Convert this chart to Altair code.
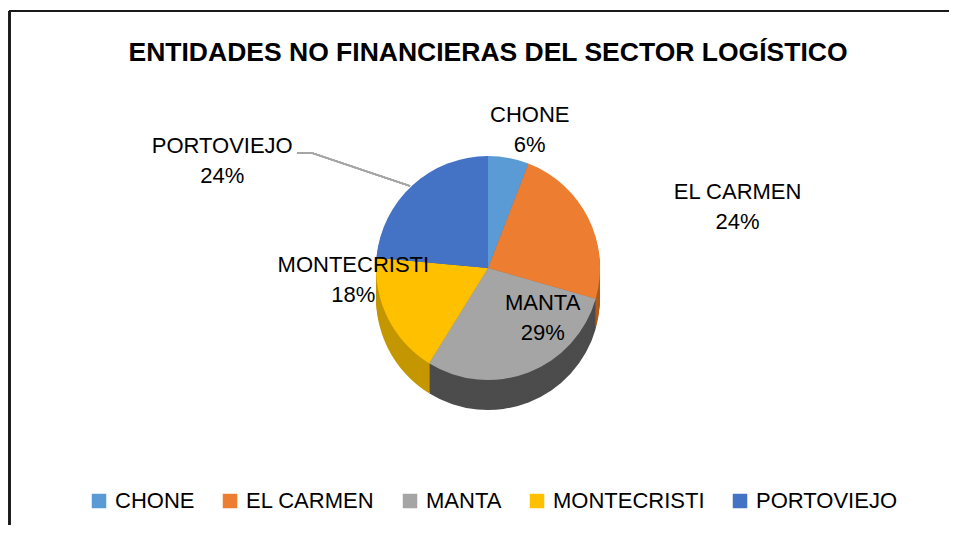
import altair as alt
import pandas as pd

# ---- data ----
ciudades = ["CHONE", "EL CARMEN", "MANTA", "MONTECRISTI", "PORTOVIEJO"]
entidades = [1, 4, 5, 3, 4]

titulo = ["ENTIDADES NO FINANCIERAS DEL SECTOR LOGÍSTICO"]

# ---- styles ----
colores = ["#5B9BD5", "#ED7D31", "#A5A5A5", "#FFC000", "#4472C4"]
colores_lado = ["#3E75A6", "#B35A1A", "#4C4C4C", "#C49600", "#2F5597"]
FONT = "Liberation Sans, Arial, sans-serif"

W, H = 941, 447
PAD_TOP = 70
CX, CY = 480, 190
R = 112
DEPTH = 30

df = pd.DataFrame({"Ciudad": ciudades, "Entidades": entidades})

mapa_lado = "{" + ",".join(f"'{c}':'{k}'" for c, k in zip(ciudades, colores_lado)) + "}"

base = alt.Chart().transform_joinaggregate(
    total="sum(Entidades)"
).transform_calculate(
    etiqueta="datum.Ciudad + '\\n' + format(datum.Entidades / datum.total, '.0%')",
    color_lado=f"{mapa_lado}[datum.Ciudad]",
)

theta = alt.Theta("Entidades:Q", stack=True)
order = alt.Order("Ciudad:N", sort="ascending")
cx = alt.value(CX)
cy = alt.value(CY)

# side (depth) of the pie
lados = [
    base.mark_arc(radius=R, yOffset=d).encode(
        theta=theta,
        order=order,
        fill=alt.Fill("color_lado:N", scale=None),
        x=cx,
        y=cy,
    )
    for d in range(DEPTH, 0, -2)
]

# top face
tapa = base.mark_arc(radius=R).encode(
    theta=theta,
    order=order,
    color=alt.Color(
        "Ciudad:N",
        scale=alt.Scale(domain=ciudades, range=colores),
        legend=alt.Legend(
            title=None,
            orient="none",
            direction="horizontal",
            legendX=80,
            legendY=412,
            symbolType="square",
            symbolSize=210,
            symbolStrokeWidth=0,
            labelFont=FONT,
            labelFontSize=22,
            labelColor="black",
            labelOffset=5,
            columnPadding=24,
            labelLimit=300,
        ),
    ),
    x=cx,
    y=cy,
)

# labels: (radius, dx, dy) per city
pos_etiquetas = {
    "CHONE": (140, 16, -15),
    "EL CARMEN": (137, 127, -15),
    "MANTA": (60, 33, -21),
    "MONTECRISTI": (80, -63, -39),
    "PORTOVIEJO": (160, -158, -4),
}

textos = []
for nombre, (rr, ddx, ddy) in pos_etiquetas.items():
    textos.append(
        base.mark_text(
            radius=rr, dx=ddx, dy=ddy, font=FONT, fontSize=22, color="black",
            lineBreak="\n", align="center", baseline="middle", lineHeight=30,
        ).encode(
            theta=theta,
            order=order,
            text=alt.condition(f"datum.Ciudad == '{nombre}'", "etiqueta:N", alt.value("")),
            x=cx,
            y=cy,
        )
    )

# leader line for PORTOVIEJO
guia_h = base.mark_rule(color="#A6A6A6", strokeWidth=1.5).encode(
    x=alt.value(289), x2=alt.value(304), y=alt.value(75)
)
guia_d = base.mark_rule(color="#A6A6A6", strokeWidth=1.5).encode(
    x=alt.value(304), x2=alt.value(402), y=alt.value(75), y2=alt.value(108)
)

# frame lines
marco_sup = base.mark_rule(color="#1a1a1a", strokeWidth=2).encode(
    x=alt.value(1), x2=alt.value(W), y=alt.value(-67)
)
marco_izq = base.mark_rule(color="#1a1a1a", strokeWidth=2).encode(
    x=alt.value(1.5), y=alt.value(-67), y2=alt.value(H)
)

titulo_mark = alt.Chart(pd.DataFrame({"t": titulo})).mark_text(
    font=FONT, fontSize=26.5, fontWeight="bold", color="black",
    align="center", baseline="alphabetic",
).encode(text="t:N", x=alt.value(480), y=alt.value(-17))

chart = alt.layer(
    marco_sup, marco_izq, *lados, tapa, guia_h, guia_d, *textos, titulo_mark, data=df
).properties(
    width=W,
    height=H,
    autosize=alt.AutoSizeParams(type="none"),
    padding={"top": PAD_TOP, "left": 0, "right": 0, "bottom": 0},
).configure_view(stroke=None)

chart.save("out.html", embed_options={"renderer": "svg", "actions": False})
